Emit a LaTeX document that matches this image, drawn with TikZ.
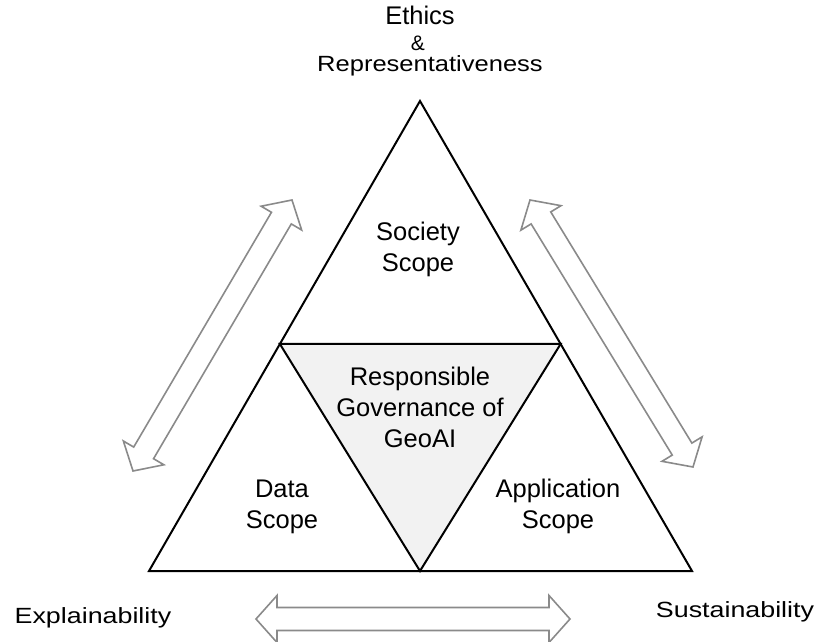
\documentclass[tikz,border=0pt]{standalone}
\usepackage{fontspec}
\usepackage{graphicx}
\setmainfont{Liberation Sans}
\usetikzlibrary{calc}
\definecolor{innergray}{HTML}{F2F2F2}
\definecolor{arrowgray}{HTML}{8A8A8A}
\tikzset{
  outertri/.style={draw=black, line width=2pt, line join=miter},
  innertri/.style={draw=black, line width=2pt, line join=miter, fill=innergray},
  lbl/.style={font=\fontsize{25.5}{31}\selectfont, align=center, inner sep=0pt},
  toplbl/.style={inner sep=0pt, anchor=base},
  sidelbl/.style={font=\fontsize{22}{22}\selectfont, inner sep=0pt, anchor=base},
  hollow/.style={draw=arrowgray, line width=1.6pt, fill=white, line join=miter},
}
\newcommand\hollowdbl[3]{%
  \coordinate (#1h1) at ($(#2)!21pt!(#3)$);
  \coordinate (#1h2) at ($(#3)!21pt!(#2)$);
  \draw[hollow] (#2) -- ($(#1h1)!23.5pt!90:(#3)$) -- ($(#1h1)!11.5pt!90:(#3)$)
    -- ($(#1h2)!11.5pt!-90:(#2)$) -- ($(#1h2)!23.5pt!-90:(#2)$) -- (#3)
    -- ($(#1h2)!23.5pt!90:(#2)$) -- ($(#1h2)!11.5pt!90:(#2)$)
    -- ($(#1h1)!11.5pt!-90:(#3)$) -- ($(#1h1)!23.5pt!-90:(#3)$) -- cycle;
}
\begin{document}
\begin{tikzpicture}[x=1pt, y=-1pt]
\useasboundingbox (0,0) rectangle (815,642);
% outer triangle
\coordinate (T) at (420,101);
\coordinate (BL) at (149,571);
\coordinate (BR) at (692,571);
\draw[outertri] (T) -- (BL) -- (BR) -- cycle;
% inner triangle
\coordinate (IL) at ($(BL)!0.483!(T)$);
\coordinate (IR) at ($(BR)!0.483!(T)$);
\coordinate (IB) at (420,571);
\draw[innertri] (IL) -- (IR) -- (IB) -- cycle;
% double arrows
\coordinate (la) at (133,471);
\coordinate (lb) at (292,200);
\coordinate (ra) at (530,200);
\coordinate (rb) at (693,467);
\coordinate (ba) at (256,619);
\coordinate (bb) at (570,619);
\hollowdbl{left}{la}{lb}
\hollowdbl{right}{ra}{rb}
\hollowdbl{bottom}{ba}{bb}
% labels
\node[lbl] (society) at (418,249) {Society\\Scope};
\node[lbl] (gov) at (420,407.5) {Responsible\\Governance of\\GeoAI};
\node[lbl] (data) at (282,506.5) {Data\\Scope};
\node[lbl] (app) at (558,506.5) {Application\\Scope};
\node[toplbl] (ethics) at (420,25) {\fontsize{25.5}{26}\selectfont Ethics};
\node[toplbl] (amp) at (418,51) {\fontsize{21}{21}\selectfont\&};
\node[toplbl] (repr) at (430,72) {\fontsize{22}{22}\selectfont\scalebox{1.16}[1]{Representativeness}};
\node[sidelbl] (expl) at (93,623) {\scalebox{1.22}[1]{Explainability}};
\node[sidelbl] (sust) at (735,617) {\scalebox{1.22}[1]{Sustainability}};
\end{tikzpicture}
\end{document}
